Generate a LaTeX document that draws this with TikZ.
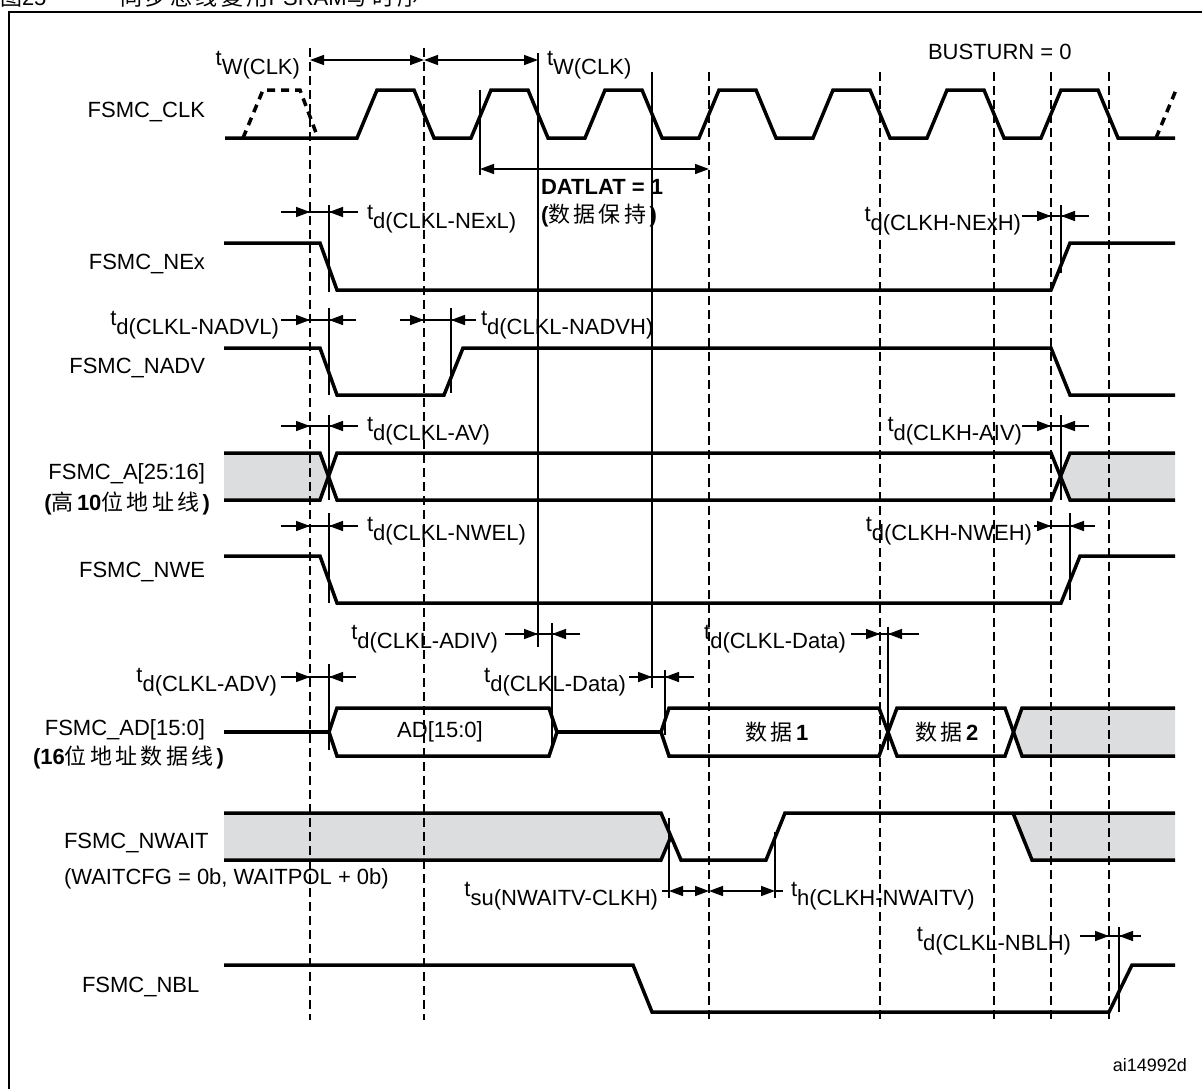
\documentclass[tikz,border=0pt]{standalone}
\usepackage{fontspec}
\setmainfont{Liberation Sans}
\newfontfamily\cjk[LetterSpace=15]{Noto Sans CJK SC}
\usetikzlibrary{arrows.meta}
\definecolor{busgrey}{RGB}{220,221,223}
\newcommand\tsb[2]{\raisebox{9pt}{#1}#2}
% converging delay arrows: y, left end, left tip, right tip, right end
\newcommand\conv[5]{%
  \draw[dimline] (#2,#1) -- (#5,#1);
  \draw[dimline,tipend] (#2,#1) -- (#3,#1);
  \draw[dimline,tipend] (#5,#1) -- (#4,#1);}
\begin{document}
\begin{tikzpicture}[x=1pt,y=-1pt,
  every node/.style={font=\fontsize{22}{26}\selectfont, inner sep=0pt, outer sep=0pt},
  sig/.style={line width=3.5pt},
  sigdash/.style={line width=3.5pt, dash pattern=on 8pt off 6pt},
  gridline/.style={line width=1.6pt, dash pattern=on 9pt off 5pt},
  refline/.style={line width=1.5pt},
  dimline/.style={line width=1.5pt},
  tipend/.style={-{Triangle[length=14pt,width=10pt]}},
  tipboth/.style={{Triangle[length=14pt,width=10pt]}-{Triangle[length=14pt,width=10pt]}},
  buslabel/.style={font=\fontsize{22}{26}\selectfont},
  framebox/.style={line width=2pt}]
\useasboundingbox (0,0) rectangle (1202,1088);

% title fragment (cut off by the page edge)
\node[anchor=base west] (title1) at (0,5) {{\cjk 图}25};
\node[anchor=base west] (title2) at (120,5) {{\cjk 同步总线复用}PSRAM{\cjk 写时序}};

% frame
\draw[framebox] (9,1090) -- (9,12) -- (1204,12);

% grey fills
\fill[busgrey] (224,453) -- (320,453) -- (328.5,476.5) -- (320,500) -- (224,500) -- cycle;
\fill[busgrey] (1175,453) -- (1070,453) -- (1060.5,476.5) -- (1070,500) -- (1175,500) -- cycle;
\fill[busgrey] (1013,732) -- (1022,708) -- (1175,708) -- (1175,756) -- (1022,756) -- cycle;
\fill[busgrey] (224,813) -- (661,813) -- (671,836.5) -- (661,860) -- (224,860) -- cycle;
\fill[busgrey] (1013,813) -- (1175,813) -- (1175,860) -- (1032,860) -- cycle;

% dashed clock-edge lines
\foreach \x in {310,424} \draw[gridline] (\x,48) -- (\x,1020);
\foreach \x in {709,880,994,1051,1109} \draw[gridline] (\x,72) -- (\x,1020);

% solid reference lines
\draw[refline] (480,90) -- (480,175);
\draw[refline] (538,53) -- (538,647);
\draw[refline] (652,72) -- (652,688);
\draw[refline] (329,205) -- (329,292);
\draw[refline] (329,308) -- (329,395);
\draw[refline] (329,415) -- (329,500);
\draw[refline] (329,513) -- (329,603);
\draw[refline] (329,664) -- (329,750);
\draw[refline] (451,308) -- (451,393);
\draw[refline] (552,623) -- (552,750);
\draw[refline] (665,670) -- (665,735);
\draw[refline] (888,627) -- (888,750);
\draw[refline] (1061,205) -- (1061,273);
\draw[refline] (1061,415) -- (1061,500);
\draw[refline] (1070,513) -- (1070,600);
\draw[refline] (669,818) -- (669,898);
\draw[refline] (775,832) -- (775,898);
\draw[refline] (1119,927) -- (1119,1012);

% FSMC_CLK
\draw[sig] (225,138) \foreach \k in {0,...,6}{ -- ({357+114*\k},138) -- ({377+114*\k},90) -- ({414+114*\k},90) -- ({434+114*\k},138) } -- (1175,138);
\draw[sigdash] (243,138) -- (263,90) -- (300,90) -- (318,138);
\draw[sigdash] (1156,138) -- (1176,90);

% FSMC_NEx
\draw[sig] (224,243) -- (320,243) -- (337,290) -- (1051,290) -- (1070,243) -- (1175,243);
% FSMC_NADV
\draw[sig] (224,348) -- (320,348) -- (337,395) -- (444,395) -- (463,348) -- (1051,348) -- (1070,395) -- (1175,395);
% FSMC_A[25:16]
\draw[sig] (224,453) -- (320,453) -- (337,500) -- (1051,500) -- (1070,453) -- (1175,453);
\draw[sig] (224,500) -- (320,500) -- (337,453) -- (1051,453) -- (1070,500) -- (1175,500);
% FSMC_NWE
\draw[sig] (224,556) -- (320,556) -- (337,603) -- (1061,603) -- (1080,556) -- (1175,556);
% FSMC_AD[15:0]
\draw[sig] (224,732) -- (329,732);
\draw[sig] (329,732) -- (337,708) -- (549,708) -- (557,732) -- (549,756) -- (337,756) -- cycle;
\draw[sig] (557,732) -- (661,732);
\draw[sig] (661,732) -- (669,708) -- (879,708) -- (897,756) -- (1005,756) -- (1022,708) -- (1175,708);
\draw[sig] (661,732) -- (669,756) -- (879,756) -- (897,708) -- (1005,708) -- (1022,756) -- (1175,756);
% FSMC_NWAIT
\draw[sig] (224,813) -- (661,813) -- (681,860) -- (766,860) -- (785,813) -- (1175,813);
\draw[sig] (224,860) -- (661,860) -- (671,836.5);
\draw[sig] (1013,813) -- (1032,860) -- (1175,860);
% FSMC_NBL
\draw[sig] (224,965) -- (633,965) -- (652,1012) -- (1109,1012) -- (1132,965) -- (1175,965);

% tw(CLK) arrows
\draw[dimline,tipboth] (310,60) -- (424,60);
\draw[dimline,tipboth] (424,60) -- (538,60);
% DATLAT
\draw[dimline,tipboth] (480,169) -- (709,169);
% tsu / th
\draw[dimline] (662,891) -- (669,891);
\draw[dimline,tipboth] (669,891) -- (709,891);
\draw[dimline,tipboth] (709,891) -- (775,891);
\draw[dimline] (775,891) -- (783,891);

% delay arrows
\conv{212}{281}{310}{329}{358}
\conv{320}{281}{310}{329}{356}
\conv{320}{400}{424}{451}{476}
\conv{426}{281}{310}{329}{358}
\conv{526}{281}{310}{329}{358}
\conv{677}{281}{310}{329}{356}
\conv{634}{505}{538}{552}{580}
\conv{677}{629}{652}{665}{694}
\conv{634}{851}{880}{888}{919}
\conv{216}{1022}{1051}{1061}{1089}
\conv{426}{1022}{1051}{1061}{1089}
\conv{526}{1034}{1051}{1070}{1095}
\conv{936}{1080}{1109}{1119}{1141}

% signal labels
\node[anchor=east] (lclk) at (205,112) {FSMC\_CLK};
\node[anchor=east] (lnex) at (205,264) {FSMC\_NEx};
\node[anchor=east] (lnadv) at (205,368) {FSMC\_NADV};
\node[anchor=east] (la) at (205,474) {FSMC\_A[25:16]};
\node[anchor=east] (la2) at (210,503) {\textbf{(}{\cjk 高}\textbf{10}{\cjk 位地址线}\textbf{)}};
\node[anchor=east] (lnwe) at (205,572) {FSMC\_NWE};
\node[anchor=east] (lad) at (205,730) {FSMC\_AD[15:0]};
\node[anchor=east] (lad2) at (224,757) {\textbf{(16}{\cjk 位地址数据线}\textbf{)}};
\node[anchor=west] (lnwait) at (64,843) {FSMC\_NWAIT};
\node[anchor=west] (lnwait2) at (64,879) {(WAITCFG = 0b, WAITPOL + 0b)};
\node[anchor=west] (lnbl) at (82,987) {FSMC\_NBL};
\node[anchor=east,font=\fontsize{18}{22}\selectfont] (ref) at (1187,1065) {ai14992d};

% bus contents
\node (bad) at (440,732) {AD[15:0]};
\node (bd1) at (777,732) {{\cjk 数据}\textbf{1}};
\node (bd2) at (947,732) {{\cjk 数据}\textbf{2}};

% timing labels
\node[anchor=base east] (twl) at (300,74) {\tsb{t}{W(CLK)}};
\node[anchor=base west] (twr) at (547,74) {\tsb{t}{W(CLK)}};
\node[anchor=west] (bus) at (928,52) {BUSTURN = 0};
\node[anchor=base west] (dat) at (541,194) {\textbf{DATLAT = 1}};
\node[anchor=base west] (dat2) at (541,222) {\textbf{(}{\cjk 数据保持}\textbf{)}};
\node[anchor=base west] (t1) at (367,228) {\tsb{t}{d(CLKL-NExL)}};
\node[anchor=base east] (t2) at (1021,230) {\tsb{t}{d(CLKH-NExH)}};
\node[anchor=base east] (t3) at (279,334) {\tsb{t}{d(CLKL-NADVL)}};
\node[anchor=base west] (t4) at (481,334) {\tsb{t}{d(CLKL-NADVH)}};
\node[anchor=base west] (t5) at (367,440) {\tsb{t}{d(CLKL-AV)}};
\node[anchor=base east] (t6) at (1022,440) {\tsb{t}{d(CLKH-AIV)}};
\node[anchor=base west] (t7) at (367,540) {\tsb{t}{d(CLKL-NWEL)}};
\node[anchor=base east] (t8) at (1032,540) {\tsb{t}{d(CLKH-NWEH)}};
\node[anchor=base east] (t9) at (498,648) {\tsb{t}{d(CLKL-ADIV)}};
\node[anchor=base east] (t10) at (846,648) {\tsb{t}{d(CLKL-Data)}};
\node[anchor=base east] (t11) at (277,691) {\tsb{t}{d(CLKL-ADV)}};
\node[anchor=base east] (t12) at (626,691) {\tsb{t}{d(CLKL-Data)}};
\node[anchor=base east] (t13) at (658,905) {\tsb{t}{su(NWAITV-CLKH)}};
\node[anchor=base west] (t14) at (791,905) {\tsb{t}{h(CLKH-NWAITV)}};
\node[anchor=base east] (t15) at (1071,950) {\tsb{t}{d(CLKL-NBLH)}};
\end{tikzpicture}
\end{document}
